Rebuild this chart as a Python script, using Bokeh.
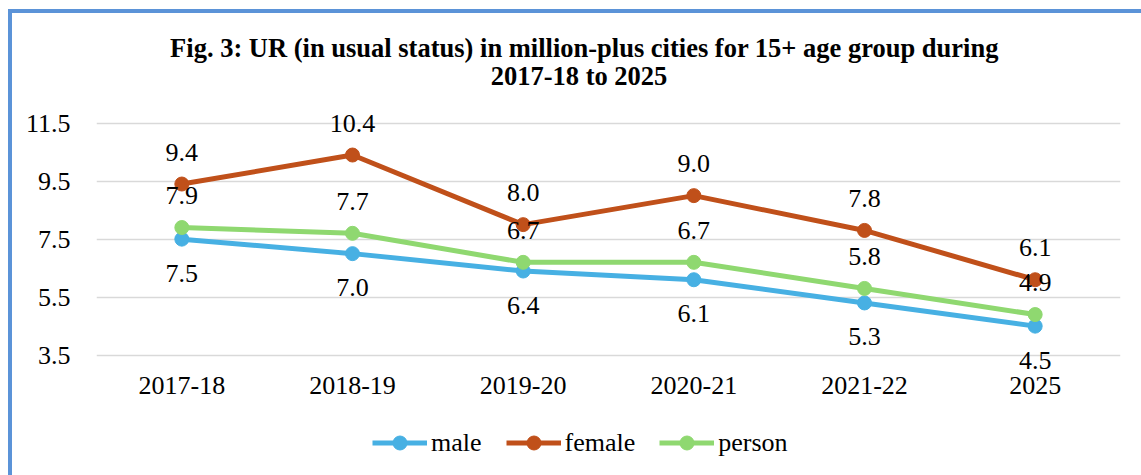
from bokeh.plotting import figure
from bokeh.models import ColumnDataSource, Range1d, FactorRange, FixedTicker, Legend, LegendItem, Label
from bokeh.core.properties import value
from bokeh.embed import file_html
from bokeh.resources import INLINE

categories = ["2017-18", "2018-19", "2019-20", "2020-21", "2021-22", "2025"]
male = [7.5, 7.0, 6.4, 6.1, 5.3, 4.5]
female = [9.4, 10.4, 8.0, 9.0, 7.8, 6.1]
person = [7.9, 7.7, 6.7, 6.7, 5.8, 4.9]
y_ticks = [3.5, 5.5, 7.5, 9.5, 11.5]
title_lines = ["Fig. 3: UR (in usual status) in million-plus cities for 15+ age group during",
               "2017-18 to 2025"]

FONT = "'Liberation Serif', 'Times New Roman', serif"
colors = {"male": "#47b0e3", "female": "#c0501a", "person": "#8fd870"}

# the frame spans the whole canvas height; title and legend sit inside it
p = figure(
    frame_width=1024, frame_height=462,
    x_range=FactorRange(*categories, range_padding=0),
    y_range=Range1d(-0.65, 15.28),
    output_backend="svg", toolbar_location=None,
    min_border_left=84, min_border_right=21, min_border_top=0, min_border_bottom=0,
)
p.styles = {"border-top": "4px solid #5b93d8", "border-left": "4px solid #5b93d8",
            "margin-left": "8px", "margin-top": "9px"}
p.outline_line_color = None

p.yaxis.ticker = FixedTicker(ticks=y_ticks)
p.ygrid.ticker = FixedTicker(ticks=y_ticks)
p.xgrid.grid_line_color = None
p.ygrid.grid_line_color = "#d9d9d9"
p.ygrid.grid_line_width = 1.5
for ax in (p.xaxis[0], p.yaxis[0]):
    ax.axis_line_color = None
    ax.major_tick_line_color = None
    ax.minor_tick_line_color = None
    ax.major_tick_out = 0
    ax.major_tick_in = 0
    ax.axis_label_standoff = 0
    ax.major_label_text_font = FONT
    ax.major_label_text_font_size = "26px"
    ax.major_label_text_color = "black"
p.yaxis.major_label_standoff = 26
p.xaxis.fixed_location = y_ticks[0]
p.xaxis.major_label_standoff = 22

# title, two centred lines
for txt, yv, xo in zip(title_lines, [14.107, 13.141], [-24, -29.5]):
    p.add_layout(Label(x=3.0, y=yv, x_offset=xo, text=txt, text_align="center",
                       text_baseline="middle", text_font=FONT, text_font_size="26.5px",
                       text_font_style="bold", text_color="black"))

series = {"male": male, "female": female, "person": person}
items = []
for name, vals in series.items():
    src = ColumnDataSource(dict(x=categories, y=vals, t=[f"{v:.1f}" for v in vals]))
    lr = p.line("x", "y", source=src, line_color=colors[name], line_width=5)
    sr = p.scatter("x", "y", source=src, size=14, fill_color=colors[name], line_color=colors[name])
    items.append(LegendItem(label=name, renderers=[lr, sr]))
    p.text("x", "y", text="t", source=src, text_font=value(FONT), text_font_size="26px",
           text_align="center", text_baseline="middle", text_color="black",
           y_offset=(34 if name == "male" else -32))

legend = Legend(items=items, orientation="horizontal", location=(276, 15),
                glyph_width=55, glyph_height=35, label_standoff=4, spacing=24,
                padding=0, margin=0, border_line_color=None, background_fill_alpha=0,
                label_text_font=FONT, label_text_font_size="26px", label_text_color="black")
p.add_layout(legend, "center")

open("out.html", "w").write(file_html(p, INLINE))
